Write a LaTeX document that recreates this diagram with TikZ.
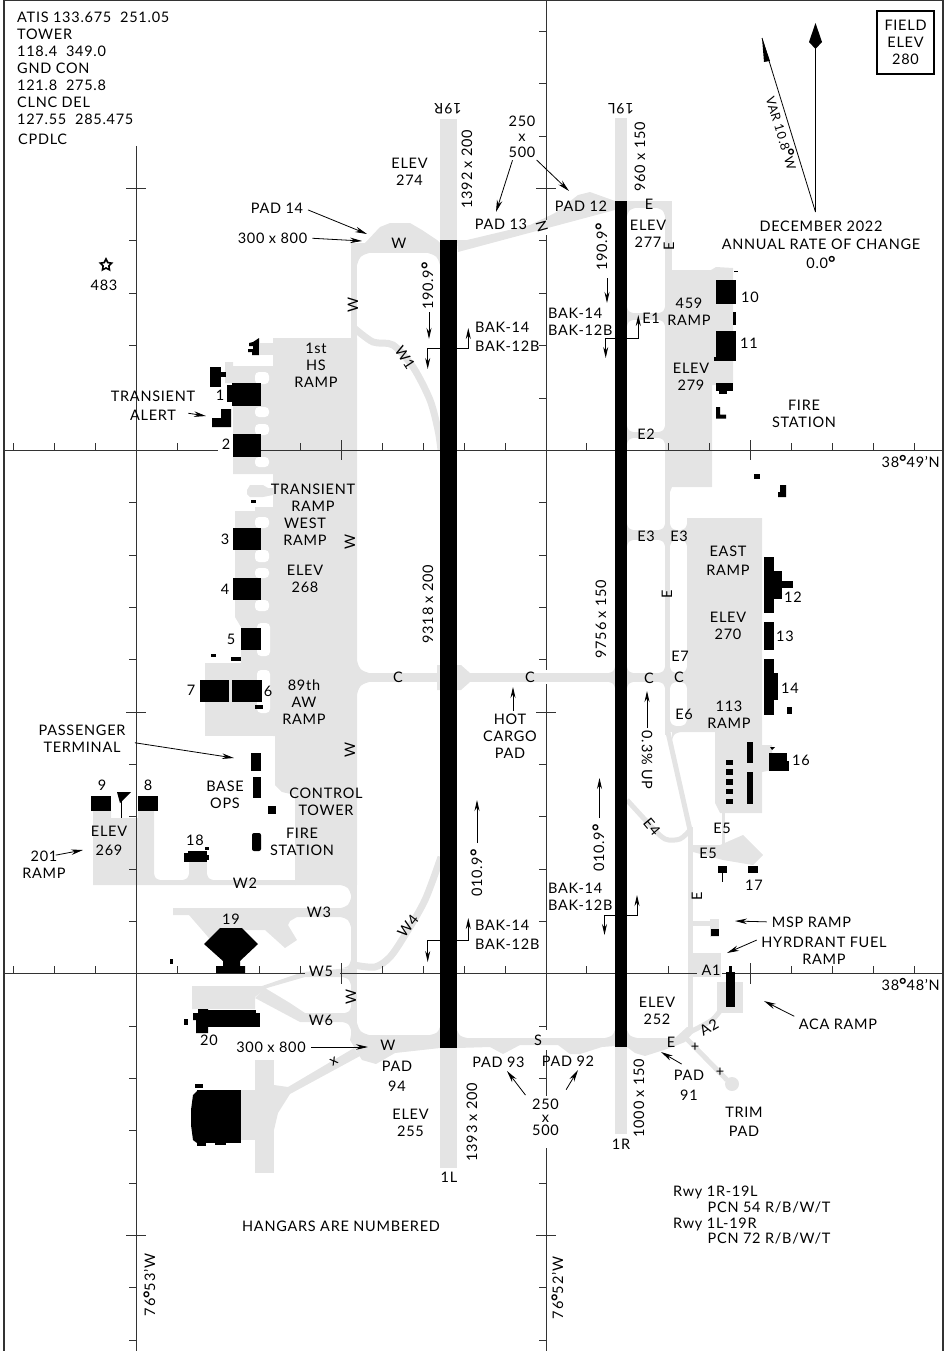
\documentclass[tikz,border=0pt]{standalone}
\usepackage{fontspec}
\setmainfont{Lato}[LetterSpace=5]
\usetikzlibrary{arrows.meta}
\usetikzlibrary{shapes.geometric}
\definecolor{apron}{HTML}{E4E4E4}
\newcommand{\dg}{\raisebox{-1.5pt}{\fontsize{18}{18}\selectfont\bfseries °}}
\newcommand{\fillet}[4]{\fill[apron] (#1,#2) -- ++(#3,0) .. controls (#1+0.25*#3,#2+0.25*#4) .. (#1,#2+#4) -- cycle;}

\begin{document}
\begin{tikzpicture}[x=1pt, y=-1pt,
                    lbl/.style={font=\fontsize{14.5}{17}\selectfont, inner sep=0pt, align=center},
                    rotlbl/.style={lbl, rotate=90},
                    leftlbl/.style={lbl, anchor=west, align=left},
                    twy/.style={draw=apron, line width=7pt},
                    thintwy/.style={draw=apron, line width=5pt},
                    slot/.style={fill=white, rounded corners=4pt},
                    bldg/.style={fill=black},
                    gridline/.style={draw=black!80, line width=0.8pt},
                    leader/.style={-{Stealth[length=12pt, width=5.5pt]}, line width=0.8pt, shorten <=5pt},
                    gear/.style={-{Stealth[length=11pt, width=5pt]}, line width=0.9pt}]
    \useasboundingbox (0,0) rectangle (951,1351);

    % Runways, grey ends
    \fill [apron] (440,119) rectangle (457,1168);
    \fill [apron] (615,118) rectangle (627,1134);

    % West taxiway and its pads
    \fill [apron] (351,243) rectangle (357,1040);
    \fill [apron] (351,243) rectangle (440,253);
    \fill [apron] (365,243) -- (380,227) -- (390,223) -- (410,223) -- (422,230) -- (437,240) -- (440,243) -- cycle;
    \fill [apron] (457,240) -- (467,240) -- (530,225) -- (555,213) -- (578,195) -- (590,192) -- (615,201) -- (615,210) -- (458,252) -- cycle;
    \fill [apron] (351,1035) -- (440,1035) -- (440,1048) -- (395,1053) -- (376,1064) -- (362,1060) -- (350,1040) -- cycle;
    \fill [apron] (457,1038) -- (615,1038) -- (615,1046) -- (602,1047) -- (580,1054) -- (570,1054) -- (558,1045) -- (520,1045) -- (503,1054) -- (490,1047) -- (457,1048) -- cycle;
    \fill [apron] (627,1038) -- (675,1038) -- (687,1027) -- (693,1027) -- (693,1033) -- (685,1042) -- (670,1048) -- (645,1056) -- (635,1053) -- (627,1047) -- cycle;

    % West ramps
    \fill [apron] (273,338) -- (357,338) -- (357,885) -- (295,885) -- (295,795) -- (282,792) -- (275,785) -- (275,736) -- (273,736) -- cycle;
    \fill [apron] (260,343) rectangle (273,355);
    \fill [apron] (225,362) -- (233,362) -- (233,366) -- (273,366) -- (273,474) -- (233,474) -- (233,383) -- (225,383) -- cycle;
    \fill [apron] (247,490) -- (250,485) -- (263,485) -- (268,488) -- (273,488) -- (273,495) -- (263,497) -- (250,497) -- (247,494) -- cycle;
    \fill [apron] (235,511) -- (255,511) -- (255,507) -- (273,507) -- (273,663) -- (241,663) -- (241,627) -- (235,617) -- cycle;
    \fill [apron] (205,663) rectangle (273,736);
    \fill [slot] (255,372) rectangle (269,384);
    \fill [slot] (255,407) rectangle (269,417);
    \fill [slot] (255,424) rectangle (269,435);
    \fill [slot] (255,457) rectangle (269,467);
    \fill [slot] (255,517) rectangle (269,528);
    \fill [slot] (255,550) rectangle (269,562);
    \fill [slot] (255,568) rectangle (269,578);
    \fill [slot] (255,600) rectangle (269,611);
    \fill [slot] (257,623) rectangle (270,656);
    \fill [slot] (257,670) rectangle (270,713);

    % 201 ramp and W2
    \fill [apron] (93,811) -- (111,811) -- (111,818) -- (138,818) -- (138,811) -- (154,811) -- (154,880) -- (295,880) -- (295,885) -- (93,885) -- cycle;
    \fill [apron] (189,862) rectangle (207,880);
    \fillet{154}{880}{6}{-6}
    \fillet{189}{880}{-6}{-6}
    \fillet{207}{880}{6}{-6}

    % Ramp 19, W3
    \fill [apron] (173,908) -- (351,908) -- (351,917) -- (297,917) -- (290,921) -- (288,925) -- (297,940) -- (285,948) -- (265,930) -- (230,930) -- (215,945) -- (189,915) -- (173,915) -- cycle;
    \fillet{351}{917}{-10}{10}
    \fillet{351}{908}{-10}{-10}
    \fillet{351}{885}{-10}{10}

    % Ramp 20, W5, W6
    \fill [apron] (192,986) -- (262,986) -- (303,972) -- (351,968) -- (351,977) -- (305,977) -- (267,988) -- (255,997) -- (255,1009) -- (192,1009) -- cycle;
    \fill [apron] (265,988) -- (290,1003) -- (305,1013) -- (351,1013) -- (351,1022) -- (300,1022) -- (255,998) -- cycle;
    \fillet{351}{1013}{-6}{-6}
    \fillet{351}{1022}{-8}{8}
    \fillet{351}{968}{-8}{-8}
    \fillet{351}{977}{-8}{8}

    % Hangar ramp at the bottom
    \fill [apron] (255,1060) rectangle (274,1173);
    \fill [apron] (240,1090) rectangle (255,1140);
    \fill [apron] (274,1085) -- (288,1087) -- (354,1048) -- (360,1056) -- (290,1094) -- (278,1113) -- (274,1130) -- cycle;

    % Connectors between the runway and W
    \draw [twy] plot [smooth] coordinates {(354,328) (373,342) (393,345) (413,367) (430,400) (438,430) (441,450)};
    \draw [twy] plot [smooth] coordinates {(354,965) (375,967) (390,957) (405,935) (425,900) (441,857)};
    \fill [apron] (357,673) rectangle (615,682);
    \fill [apron] (437,665) -- (461,665) -- (470,673) -- (470,682) -- (461,690) -- (437,690) -- cycle;
    \fillet{357}{253}{12}{12}
    \fillet{440}{253}{-12}{12}
    \fillet{357}{1035}{12}{-12}
    \fillet{440}{1035}{-10}{-8}
    \fillet{457}{1038}{10}{-8}
    \fillet{615}{1038}{-10}{-8}
    \fillet{627}{1038}{10}{-8}
    \fillet{357}{673}{12}{-12}
    \fillet{357}{682}{12}{12}
    \fillet{615}{673}{-6}{-6}
    \fillet{615}{682}{-6}{6}

    % East taxiway, ramps and stubs
    \fill [apron] (627,201) rectangle (671.7,208);
    \fill [apron] (665,201) rectangle (671.7,487);
    \fill [apron] (665,487) rectangle (670,735);
    \fill [apron] (665,270) -- (711,270) -- (716,267) -- (733,268) -- (733,385) -- (712,385) -- (712,487) -- (672,487) -- (670,492) -- (665,492) -- cycle;
    \fill [apron] (627,313) rectangle (665,320);
    \fill [apron] (627,432) rectangle (665,438);
    \fill [apron] (627,530) rectangle (687,540);
    \fill [apron] (627,673) rectangle (687,682);
    \fill [apron] (687,518) -- (762,518) -- (762,813) -- (720,813) -- (715,803) -- (715,732) -- (665,732) -- (665,726) -- (687,726) -- cycle;
    \fill [apron] (762,745) -- (772,745) -- (772,770) -- (762,772) -- cycle;
    \draw [thintwy] (667.5,730) -- (690,830);
    \fill [apron] (687.5,827) rectangle (693,1030);
    \draw [thintwy] plot [smooth] coordinates {(627,800) (650,825) (665,839) (680,839) (690,830)};
    \fill [apron] (722,813) rectangle (725,850);
    \fill [apron] (693,845) -- (720,845) -- (743,835) -- (763,855) -- (753,865) -- (723,860) -- (693,852) -- cycle;
    \fill [apron] (693,921) rectangle (710,926);
    \fill [apron] (710,919) rectangle (719,937);
    \fill [apron] (688,953) rectangle (721,977);
    \fill [apron] (717,982) rectangle (743,1013);
    \draw [thintwy] plot [smooth] coordinates {(690,1032) (712,1020) (722,1008)};
    \draw [thintwy] (685,1037) -- (727,1080);
    \fill [apron] (732,1084) circle [radius=7];
    \foreach \ya/\yb in {313/320, 432/438, 530/540, 673/682} {
        \fillet{627}{\ya}{6}{-6}
        \fillet{627}{\yb}{6}{6}
        \fillet{665}{\ya}{-6}{-6}
        \fillet{665}{\yb}{-6}{6}
    }
    \foreach \ya/\yb in {530/540, 673/682} {
        \fillet{670}{\ya}{6}{-6}
        \fillet{670}{\yb}{6}{6}
        \fillet{687}{\ya}{-6}{-6}
        \fillet{687}{\yb}{-6}{6}
    }
    \fillet{670}{726}{6}{-6}
    \fillet{687}{726}{-6}{-6}
    \fillet{672}{732}{8}{8}
    \fillet{627}{208}{8}{8}
    \fillet{665}{208}{-8}{8}

    % Draw the grid lines and ticks
    \draw [gridline] (4,450) -- (218,450);
    \draw [gridline] (235,450) -- (943,450);
    \draw [gridline] (4,973) -- (305,973);
    \draw [gridline] (340,973) -- (697,973);
    \draw [gridline] (722,973) -- (943,973);
    \draw [gridline] (136,146) -- (136,1351);
    \draw [gridline] (546,0) -- (546,220);
    \draw [gridline] (546,235) -- (546,670);
    \draw [gridline] (546,684) -- (546,1030);
    \draw [gridline] (546,1050) -- (546,1096);
    \draw [gridline] (546,1148) -- (546,1351);
    \foreach \tx in {13,54,95,177,300,382,423,464,505,586,668,709,791,832,873,914}
        \draw [gridline] (\tx,443) -- (\tx,450);
    \foreach \tx in {13,54,95,177,259,300,382,423,464,505,586,668,791,832,873,914}
        \draw [gridline] (\tx,966) -- (\tx,973);
    \foreach \tx in {341,750} {
        \draw [gridline] (\tx,440) -- (\tx,460);
        \draw [gridline] (\tx,963) -- (\tx,984);
    }
    \foreach \ty in {240,293,345,502,555,607,659,764,816,869,921,1026,1078,1130,1183,1287,1340}
        \draw [gridline] (129,\ty) -- (136,\ty);
    \foreach \ty in {31,83,136,240,293,345,398,502,555,607,659,764,816,869,921,1026,1078,1183,1287,1340}
        \draw [gridline] (539,\ty) -- (546,\ty);
    \foreach \ty in {188,712,1235} {
        \draw [gridline] (126,\ty) -- (146,\ty);
        \draw [gridline] (536,\ty) -- (556,\ty);
    }

    % Runways, black part
    \fill [bldg] (440,240) rectangle (457,1048);
    \fill [bldg] (615,201) rectangle (627.3,1047);

    % Buildings west of the runways
    \fill [bldg] (259,338) -- (259,355) -- (252,355) -- (252,352) -- (248,352) -- (248,349) -- (253,349) -- (253,346) -- (249,346) -- (249,343) -- (253,342) -- cycle;
    \fill [bldg] (210,367) rectangle (221,387);
    \fill [bldg] (221,372) rectangle (226,377);
    \fill [bldg] (232,383) rectangle (261,406);
    \fill [bldg] (227,385) rectangle (232,402);
    \fill [bldg] (221,409) -- (231,409) -- (231,427) -- (212,427) -- (212,418) -- (221,418) -- cycle;
    \fill [bldg] (233,434) rectangle (261,457);
    \fill [bldg] (251,500) rectangle (256,503);
    \fill [bldg] (233,528) rectangle (261,550);
    \fill [bldg] (233,578) rectangle (261,600);
    \fill [bldg] (241,628) rectangle (261,650);
    \fill [bldg] (211,654) rectangle (216,657);
    \fill [bldg] (231,657) rectangle (241,661);
    \fill [bldg] (200,680) rectangle (229,702);
    \fill [bldg] (232,680) rectangle (262,702);
    \fill [bldg] (255,705) rectangle (263,709);
    \fill [bldg] (251,753) rectangle (261,771);
    \fill [bldg] (253,777) rectangle (261,798);
    \fill [bldg] (268,806) rectangle (276,814);
    \fill [bldg, rounded corners=2pt] (252,833) rectangle (261,851);
    \fill [bldg] (91,796) rectangle (111,811);
    \fill [bldg] (138,796) rectangle (158,811);
    \fill [bldg] (117,792) -- (131,792) -- (120,803) -- cycle;
    \draw [line width=0.8pt] (121,800) -- (121,818);
    \fill [bldg] (184,853) rectangle (191,862);
    \fill [bldg] (188,851) rectangle (207,862);
    \fill [bldg] (205,847) rectangle (209,850);
    \fill [bldg] (207,855) rectangle (209,860);
    \fill [bldg] (220,928) -- (242,928) -- (258,944) -- (240,961) -- (240,966) -- (245,966) -- (245,973) -- (216,973) -- (216,966) -- (223,966) -- (223,961) -- (204,944) -- cycle;
    \fill [bldg] (170,959) rectangle (173,964);
    \fill [bldg] (208,1010) rectangle (256,1027);
    \fill [bldg] (256,1013) rectangle (260,1027);
    \fill [bldg] (198,1009) -- (208,1009) -- (208,1033) -- (196,1033) -- (196,1020) -- (193,1020) -- (193,1013) -- (198,1013) -- cycle;
    \fill [bldg] (184,1019) rectangle (188,1025);
    \fill [bldg] (197,1090) rectangle (241,1143);
    \fill [bldg] (197,1091) -- (193,1095) -- (191,1110) -- (191,1125) -- (193,1140) -- (197,1143) -- cycle;
    \fill [bldg] (195,1084) rectangle (203,1088);
    \fill [bldg] (197,1143) rectangle (206,1146);
    \fill [bldg] (215,1143) rectangle (226,1145);

    % Buildings east of the runways
    \fill [bldg] (716,280) rectangle (736,304);
    \fill [bldg] (734,271) rectangle (738,272);
    \fill [bldg] (733,312) rectangle (736,325);
    \fill [bldg] (716,331) rectangle (736,358);
    \fill [bldg] (714,357) rectangle (736,361);
    \fill [bldg] (716,383) rectangle (733,391);
    \fill [bldg] (719,391) rectangle (727,394);
    \fill [bldg] (716,407) -- (720,407) -- (720,414.5) -- (726,414.5) -- (726,418.5) -- (716,418.5) -- cycle;
    \fill [bldg] (754,474) rectangle (760,479);
    \fill [bldg] (780,485) -- (786,485) -- (786,497) -- (778,497) -- (778,492) -- (780,492) -- cycle;
    \fill [bldg] (764,557) rectangle (773.5,613);
    \fill [bldg] (774,571) rectangle (782,599);
    \fill [bldg] (782,581) rectangle (793,588);
    \fill [bldg] (764,622) rectangle (773.5,650);
    \fill [bldg] (764,659) rectangle (773.5,715);
    \fill [bldg] (774,673) rectangle (778,700);
    \fill [bldg] (787,707) rectangle (792,714);
    \fill [bldg] (747,742) rectangle (753,763);
    \fill [bldg] (747,772) rectangle (753,804);
    \foreach \ya/\yb in {760/765, 769/775, 779/785, 789/794, 799/804}
        \fill [bldg] (726,\ya) rectangle (733,\yb);
    \fill [bldg] (769,753) rectangle (787,771);
    \fill [bldg] (787,761) rectangle (789,771);
    \fill [bldg] (770,747) -- (775,747) -- (772,750) -- cycle;
    \fill [bldg] (718,866) rectangle (727,873);
    \fill [bldg] (721.5,873) rectangle (722.8,882);
    \fill [bldg] (748,866) rectangle (758,873);
    \fill [bldg] (711,929) rectangle (719,936);
    \fill [bldg] (726,972) rectangle (734.5,1007);
    \fill [bldg] (729,966) rectangle (732,972);

    % Frame and field elevation box
    \draw [line width=1.6pt, black!80] (4,1351) -- (4,0) -- (943,0) -- (943,1351);
    \node [lbl, draw, line width=1.4pt, minimum width=57pt, minimum height=63pt] (field_elev) at (905.5,42.5) {FIELD\\ELEV\\280};

    % North arrow and variation
    \coordinate (var_foot) at (815.5,212);
    \coordinate (var_tip) at (762,38);
    \draw [line width=0.8pt] (var_foot) -- (815.5,45);
    \draw [line width=0.8pt] (var_foot) -- (var_tip);
    \fill [bldg] (815.5,23) -- (822,42) -- (815.5,49) -- (809,42) -- cycle;
    \fill [bldg] (var_tip) -- (764,62) -- (770,61) -- cycle;
    \node [lbl, rotate=-73] (var) at (781.5,133) {\fontsize{12.5}{14}\selectfont VAR 10.8\dg W};
    \node [lbl] (rate) at (821,245) {DECEMBER 2022\\[1.5pt]ANNUAL RATE OF CHANGE\\[1.5pt]0.0\dg};

    % Frequencies
    \node [leftlbl] (freqs) at (17,68) {ATIS 133.675\ \ 251.05\\TOWER\\118.4\ \ 349.0\\GND CON\\121.8\ \ 275.8\\CLNC DEL\\127.55\ \ 285.475};
    \node [leftlbl] (cpdlc) at (18,139) {CPDLC};

    % Runway labels
    \node [lbl, rotate=180] (rwy_19r) at (448,109) {19R};
    \node [lbl, rotate=180] (rwy_19l) at (621,109) {19L};
    \node [lbl] (rwy_1l) at (449,1177) {1L};
    \node [lbl] (rwy_1r) at (621,1144) {1R};
    \node [rotlbl] (len_19r) at (467,169) {1392 x 200};
    \node [rotlbl] (len_19l) at (640,157) {960 x 150};
    \node [rotlbl] (len_1l) at (472,1122) {1393 x 200};
    \node [rotlbl] (len_1r) at (639,1098) {1000 x 150};
    \node [rotlbl] (len_west) at (428,604) {9318 x 200};
    \node [rotlbl] (len_east) at (601,619) {9756 x 150};
    \node [rotlbl] (hdg_w_n) at (428,286) {190.9\dg};
    \node [rotlbl] (hdg_e_n) at (602,247) {190.9\dg};
    \node [rotlbl] (hdg_w_s) at (477,873) {010.9\dg};
    \node [rotlbl] (hdg_e_s) at (599,848) {010.9\dg};
    \node [lbl, rotate=-90] (slope) at (647,760) {0.3\% UP};

    % West side labels
    \node [lbl] (star_lbl) at (104,285) {483};
    \node [star, star points=5, star point ratio=2, draw, line width=1.6pt, inner sep=0pt, minimum size=12pt] (obstacle) at (106,265) {};
    \node [lbl] (elev_274) at (409.5,172) {ELEV\\274};
    \node [lbl] (pad_14) at (277,208) {PAD 14};
    \node [lbl] (size_14) at (272.5,238) {300 x 800};
    \node [lbl] (tw_w1) at (399,243) {W};
    \node [rotlbl] (tw_w2) at (353,305) {W};
    \node [lbl, rotate=-57] (tw_w3) at (405,358) {W1};
    \node [lbl] (hs_ramp) at (316,365) {1st\\HS\\RAMP};
    \node [lbl] (transient_alert) at (153,405.5) {TRANSIENT\\[2pt]ALERT};
    \node [lbl] (transient_ramp) at (313,498) {TRANSIENT\\RAMP};
    \node [lbl] (west_ramp) at (305,532) {WEST\\RAMP};
    \node [rotlbl] (tw_w4) at (350,542) {W};
    \node [lbl] (elev_268) at (305,579) {ELEV\\268};
    \node [lbl] (aw_ramp) at (304,702) {89th\\AW\\RAMP};
    \node [rotlbl] (tw_w5) at (350,750) {W};
    \node [lbl] (passenger) at (82,738.5) {PASSENGER\\TERMINAL};
    \node [lbl] (base_ops) at (225,795) {BASE\\OPS};
    \node [lbl] (tower) at (326,801.5) {CONTROL\\TOWER};
    \node [lbl] (fire_w) at (302,842) {FIRE\\STATION};
    \node [lbl] (elev_269) at (109,840.5) {ELEV\\[2pt]269};
    \node [lbl] (ramp_201) at (44,865) {201\\RAMP};
    \node [lbl] (tw_w2a) at (245,883) {W2};
    \node [lbl] (tw_w3a) at (319,912) {W3};
    \node [lbl, rotate=52] (tw_w4a) at (408,926) {W4};
    \node [lbl] (tw_w5a) at (321,971) {W5};
    \node [rotlbl] (tw_w6) at (351,997) {W};
    \node [lbl] (tw_w6a) at (321,1020) {W6};
    \node [lbl] (size_94) at (271,1047) {300 x 800};
    \node [lbl] (tw_w7) at (388,1045) {W};
    \node [lbl] (pad_94) at (397,1076) {PAD\\[3pt]94};
    \node [lbl] (elev_255) at (410.5,1122.5) {ELEV\\255};
    \node [lbl, rotate=30] (cross_x) at (334,1062) {x};
    \node [lbl] (hangars) at (341,1226) {HANGARS ARE NUMBERED};
    \node [rotlbl] (lon_53) at (150,1285) {76\dg 53'W};
    \node [rotlbl] (lon_52) at (558,1288) {76\dg 52'W};

    % Hangar numbers
    \node [lbl] (hgr_1) at (220,395) {1};
    \node [lbl] (hgr_2) at (226,444) {2};
    \node [lbl] (hgr_3) at (225,539) {3};
    \node [lbl] (hgr_4) at (225,589) {4};
    \node [lbl] (hgr_5) at (231,639) {5};
    \node [lbl] (hgr_6) at (268,691) {6};
    \node [lbl] (hgr_7) at (191,690) {7};
    \node [lbl] (hgr_8) at (148,785) {8};
    \node [lbl] (hgr_9) at (102,785) {9};
    \node [lbl] (hgr_10) at (750,297) {10};
    \node [lbl] (hgr_11) at (749,343) {11};
    \node [lbl] (hgr_12) at (793,597) {12};
    \node [lbl] (hgr_13) at (785,636) {13};
    \node [lbl] (hgr_14) at (790,688) {14};
    \node [lbl] (hgr_16) at (801,760) {16};
    \node [lbl] (hgr_17) at (754,885) {17};
    \node [lbl] (hgr_18) at (195,840) {18};
    \node [lbl] (hgr_19) at (231,919) {19};
    \node [lbl] (hgr_20) at (209,1040) {20};

    % Between the runways
    \node [lbl] (size_13) at (522,136.5) {250\\[-1.5pt]x\\[-1.5pt]500};
    \node [lbl] (pad_13) at (501,224) {PAD 13};
    \node [lbl] (pad_12) at (581,206) {PAD 12};
    \node [lbl, rotate=105] (tw_n) at (542,226) {N};
    \node [leftlbl] (bak_w_n) at (475,337) {BAK-14\\[2pt]BAK-12B};
    \node [leftlbl] (bak_e_n) at (548,321.5) {BAK-14\\BAK-12B};
    \node [leftlbl] (bak_w_s) at (475,934.5) {BAK-14\\[2pt]BAK-12B};
    \node [leftlbl] (bak_e_s) at (548,897) {BAK-14\\BAK-12B};
    \node [lbl] (tw_c1) at (398,677) {C};
    \node [lbl] (tw_c2) at (530,677) {C};
    \node [lbl] (tw_c3) at (649,678) {C};
    \node [lbl] (tw_c4) at (679,677) {C};
    \node [lbl] (hot_cargo) at (510,736.5) {HOT\\CARGO\\PAD};
    \node [lbl] (tw_s) at (538,1040) {S};
    \node [lbl] (pad_93) at (498.5,1062) {PAD 93};
    \node [lbl] (pad_92) at (568,1061) {PAD 92};
    \node [lbl] (size_92) at (545.5,1117.5) {250\\[-4pt]x\\[-4pt]500};

    % East side labels
    \node [lbl] (tw_e1) at (649,204) {E};
    \node [lbl] (elev_277) at (648,234) {ELEV\\277};
    \node [rotlbl] (tw_e2) at (669,246) {E};
    \node [lbl] (tw_e1a) at (651,318) {E1};
    \node [lbl] (ramp_459) at (689,312) {459\\RAMP};
    \node [lbl] (elev_279) at (691,376.5) {ELEV\\279};
    \node [lbl] (tw_e2a) at (646,434) {E2};
    \node [lbl] (fire_e) at (804,414) {FIRE\\STATION};
    \node [leftlbl, anchor=east] (lat_49) at (940,462) {38\dg 49'N};
    \node [lbl] (tw_e3a) at (646,536) {E3};
    \node [lbl] (tw_e3b) at (679,536) {E3};
    \node [lbl] (east_ramp) at (728,561) {EAST\\[2pt]RAMP};
    \node [rotlbl] (tw_e3) at (667,594) {E};
    \node [lbl] (elev_270) at (728,626) {ELEV\\270};
    \node [lbl] (tw_e7) at (680,656) {E7};
    \node [lbl] (tw_e6) at (684,714) {E6};
    \node [lbl] (ramp_113) at (729,714.5) {113\\RAMP};
    \node [lbl, rotate=-50] (tw_e4) at (652,827) {E4};
    \node [lbl] (tw_e5a) at (722,828) {E5};
    \node [lbl] (tw_e5b) at (708,853) {E5};
    \node [rotlbl] (tw_e4a) at (697,896) {E};
    \node [lbl] (msp_ramp) at (811.5,922) {MSP RAMP};
    \node [lbl] (fuel_ramp) at (824,951) {HYRDRANT FUEL\\RAMP};
    \node [lbl] (tw_a1) at (711,970) {A1};
    \node [leftlbl, anchor=east] (lat_48) at (940,985) {38\dg 48'N};
    \node [lbl] (elev_252) at (657,1011) {ELEV\\252};
    \node [lbl] (aca_ramp) at (838,1024) {ACA RAMP};
    \node [lbl, rotate=30] (tw_a2) at (709,1027) {A2};
    \node [lbl] (tw_e8) at (671,1042) {E};
    \node [lbl] (pad_91) at (689,1085) {PAD\\[3pt]91};
    \node [lbl] (trim_pad) at (744,1121.5) {TRIM\\[2pt]PAD};
    \node [lbl] (cross_a) at (695,1047) {+};
    \node [lbl] (cross_b) at (720,1072) {+};
    \node [leftlbl] (rwy_1) at (673,1192) {Rwy 1R-19L};
    \node [leftlbl] (pcn_1) at (707.5,1207.5) {PCN 54 R/B/W/T};
    \node [leftlbl] (rwy_2) at (673,1224) {Rwy 1L-19R};
    \node [leftlbl] (pcn_2) at (707.5,1238) {PCN 72 R/B/W/T};

    % Draw the arrows
    \draw [leader] (pad_14.east) -- (367,234);
    \draw [leader] (size_14.east) -- (362,241);
    \draw [leader] (transient_alert.south east) ++(-12,-8) -- (206,416);
    \draw [leader] (130,742) -- (234,758);
    \draw [leader] (ramp_201.north east) ++(-15,5) -- (83,850);
    \draw [leader] (size_94.east) -- (368,1047);
    \draw [leader] (size_13.south) ++(-8,-2) -- (496,212);
    \draw [leader] (size_13.south) ++(11,-1) -- (569,191);
    \draw [leader] (size_92.north) ++(-17,0) -- (507,1071);
    \draw [leader] (size_92.north) ++(18,-5) -- (578,1070);
    \draw [leader] (pad_91.north) ++(-3,-3) -- (661,1052);
    \draw [leader] (msp_ramp.west) -- (735,921);
    \draw [leader] (fuel_ramp.north west) ++(0,1) -- (727,953);
    \draw [leader] (aca_ramp.north west) ++(0,0) -- (764,1001);
    \draw [gear] (hot_cargo.north) ++(3,-3) -- (513,687);
    \draw [gear] (647,728) -- (647,691);
    \draw [gear] (599.5,818) -- (599.5,778);
    \draw [gear] (477,843) -- (477,800);
    \draw [gear] (429,312) -- (429,339);
    \draw [gear] (607,278) -- (607,303);

    % Arresting gear marks
    \draw [gear] (440,348.3) -- (427.7,348.3) -- (427.7,369);
    \draw [gear] (457,348.3) -- (468.3,348.3) -- (468.3,328);
    \draw [gear] (615,338) -- (605.7,338) -- (605.7,358);
    \draw [gear] (627,338) -- (638.3,338) -- (638.3,315);
    \draw [gear] (440,940) -- (427.7,940) -- (427.7,962);
    \draw [gear] (457,940) -- (468.3,940) -- (468.3,918);
    \draw [gear] (615,915) -- (604.5,915) -- (604.5,935);
    \draw [gear] (627,915) -- (637,915) -- (637,895);
\end{tikzpicture}
\end{document}
